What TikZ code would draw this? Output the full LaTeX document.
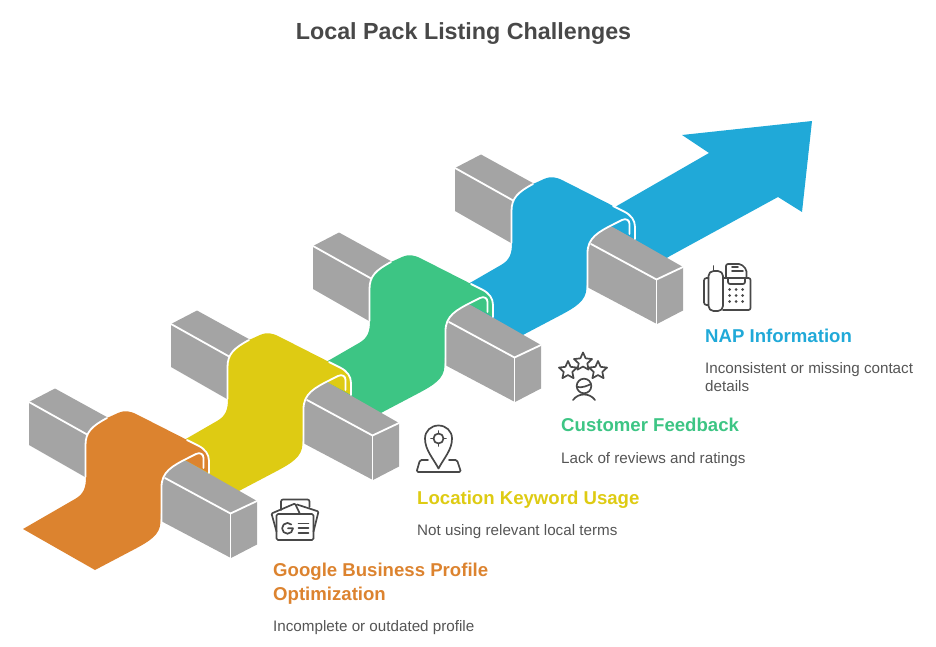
\documentclass[tikz,border=0pt]{standalone}
\usepackage{fontspec}
\setmainfont{Liberation Sans}
\usetikzlibrary{shapes.geometric}
\definecolor{cOrange}{HTML}{DC832F}
\definecolor{cYellow}{HTML}{DECB13}
\definecolor{cGreen}{HTML}{3DC584}
\definecolor{cBlue}{HTML}{20A9D8}
\definecolor{cGrey}{HTML}{A4A4A4}
\definecolor{cInk}{HTML}{484848}
\definecolor{cBody}{HTML}{555555}
\tikzset{
  barfill/.style={fill=cGrey,draw=none},
  edgeline/.style={draw=white,line width=1.8pt,line cap=round,line join=round},
  icon/.style={draw=cInk,line width=1.7pt,line join=round,line cap=round,fill=none},
  titletext/.style={anchor=base,text=cInk,inner sep=0pt,font=\bfseries\fontsize{23.3}{28}\selectfont},
  headtext/.style={anchor=base west,inner sep=0pt,font=\bfseries\fontsize{18.6}{24}\selectfont},
  bodytext/.style={anchor=base west,inner sep=0pt,text=cBody,font=\fontsize{15.2}{18}\selectfont}
}
\begin{document}
\begin{tikzpicture}[x=1pt,y=-1pt]
\useasboundingbox (0,0) rectangle (936,647);
% arrow head of the last ribbon
\fill[cBlue] (590,222) -- (615,207) -- (709,153) -- (682,135) -- (812,121) -- (802,212) -- (778,197) -- (670,256) -- (650,268) -- cycle;
\foreach \k/\c in {3/cBlue,2/cGreen,1/cYellow,0/cOrange}{
\begin{scope}[shift={({142*\k},{-78*\k})}]
  % back bar
  \path[barfill] (29,402) -- (55,388.5) -- (125,427) -- (100,490) -- (85,477) -- (29,445) -- cycle;
  \draw[edgeline] (29,402) -- (88,435);
  % front bar
  \path[barfill] (186,460.5) -- (257,501) -- (257,544.5) -- (231,558) -- (161,521) -- (150,490) -- (170,462) -- cycle;
  % ribbon
  \fill[\c] (23,529) -- (75,499) .. controls (84,494) and (86,487) .. (86,477)
    -- (86,445) .. controls (86,432) and (92,426) .. (107,418)
    -- (118,413) .. controls (125,410) and (130,411) .. (137,414.5)
    -- (198,445.5) .. controls (205,449) and (209,454) .. (209,461)
    -- (209,473) -- (186,460.5) -- (188,458)
    .. controls (172,466) and (161.5,472) .. (161.5,487)
    -- (160.5,522) .. controls (160,535) and (150,541) .. (133,550)
    -- (95,570) -- cycle;
  % white edges
  \draw[edgeline] (85.5,477) -- (85.5,445) .. controls (85.5,432) and (92,426) .. (107,418);
  \draw[edgeline] (187,440) -- (198,445.5) .. controls (205,449) and (209,454) .. (209,461) -- (209,473);
  \draw[edgeline] (161.5,522) -- (161.5,487) .. controls (161.5,472) and (172,466) .. (188,458)
    -- (196,454) .. controls (200,452) and (203.5,454) .. (203.5,458) -- (203.5,468);
  \draw[edgeline] (165,478) -- (230.5,513.5) -- (257,501);
  \draw[edgeline] (230.5,513.5) -- (230.5,558);
\end{scope}
}
% title
\node[titletext] (title) at (463.5,40) {Local Pack Listing Challenges};
% texts
\node[headtext,text=cBlue] (h4) at (705,342) {NAP Information};
\node[bodytext] (b4a) at (705,373) {Inconsistent or missing contact};
\node[bodytext] (b4b) at (705,391) {details};
\node[headtext,text=cGreen] (h3) at (561,431) {Customer Feedback};
\node[bodytext] (b3) at (561,463) {Lack of reviews and ratings};
\node[headtext,text=cYellow] (h2) at (417,504) {Location Keyword Usage};
\node[bodytext] (b2) at (417,535) {Not using relevant local terms};
\node[headtext,text=cOrange] (h1a) at (273,576) {Google Business Profile};
\node[headtext,text=cOrange] (h1b) at (273,600) {Optimization};
\node[bodytext] (b1) at (273,631) {Incomplete or outdated profile};
% fax icon
\draw[icon,rounded corners=5pt] (708.5,271) rectangle (723,311);
\draw[icon] (713.5,266) -- (713.5,271);
\draw[icon,rounded corners=2.5pt] (708.5,278) -- (704,278) -- (704,305) -- (708.5,305);
\draw[icon,rounded corners=2pt] (723,278) -- (750.5,278) -- (750.5,310) -- (723,310);
\draw[icon,rounded corners=2pt] (726,278) -- (726,264) -- (741,264) -- (746.5,269.5) -- (746.5,278);
\draw[icon] (732,267) -- (738,267) (732,271) -- (743,271);
\draw[icon,rounded corners=2pt] (728,278) -- (728,284) -- (745,284) -- (745,278);
\foreach \px in {729.5,736,742.5}{\foreach \py in {289.5,295.5,301.5}{\fill[cInk] (\px,\py) circle (1.5pt);}}
% stars icon
\node[icon,star,star points=5,star point ratio=2.1,minimum size=19pt,inner sep=0pt] (s1) at (568,370.5) {};
\node[icon,star,star points=5,star point ratio=2.1,minimum size=19pt,inner sep=0pt] (s2) at (583,362) {};
\node[icon,star,star points=5,star point ratio=2.1,minimum size=19pt,inner sep=0pt] (s3) at (598,370.5) {};
\draw[icon] (584,386) circle (7.3pt);
\draw[icon] (577.5,387) .. controls (582,388) and (587,386) .. (591,384);
\draw[icon] (573,400) .. controls (576,396) and (580,394.5) .. (584,394.5) .. controls (588,394.5) and (592,396) .. (595,400);
% pin icon
\draw[icon] (438.5,468.5) .. controls (433,458) and (425,450) .. (425,438.5) .. controls (425,431) and (431,425.5) .. (438.5,425.5) .. controls (446,425.5) and (452,431) .. (452,438.5) .. controls (452,450) and (444,458) .. (438.5,468.5) -- cycle;
\draw[icon] (438.5,438.5) circle (5pt);
\draw[icon] (438.5,431) -- (438.5,433.5) (438.5,443.5) -- (438.5,446) (431,438.5) -- (433.5,438.5) (443.5,438.5) -- (446,438.5);
\draw[icon,rounded corners=1.5pt] (428,460) -- (420,460) -- (416.5,472) -- (461,472) -- (457,460) -- (449,460);
% G profile icon
\draw[icon,rounded corners=1.5pt] (276.5,514) rectangle (313.5,540);
\draw[icon,rounded corners=2pt] (281,510) -- (281,499.5) -- (309.5,499.5) -- (309.5,507);
\draw[icon,rounded corners=1pt] (276.5,531.5) -- (271.5,513.5) -- (295,503.5) -- (300,514);
\draw[icon,rounded corners=1pt] (297,504.5) -- (318.5,511.5) -- (313.5,531.5);
\draw[icon] (291.3,524.5) arc[start angle=45,end angle=315,radius=5.4pt] -- (293,528.3) -- (288,528.3);
\draw[icon] (298.5,523.5) -- (308.5,523.5) (298.5,528.3) -- (308.5,528.3) (298.5,533) -- (308.5,533);
\end{tikzpicture}
\end{document}
